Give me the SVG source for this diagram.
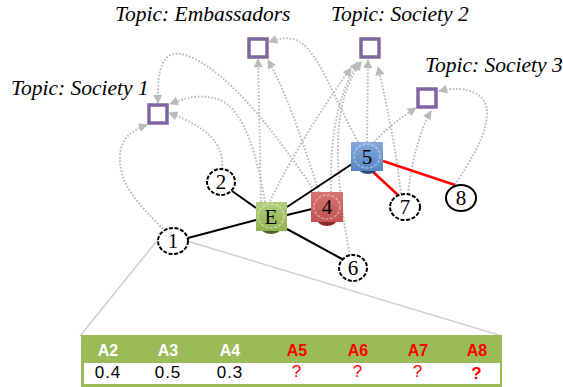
<svg xmlns="http://www.w3.org/2000/svg" width="563" height="387" viewBox="0 0 563 387">
  <defs>
    <style>
      .topic-label { font-family: "Liberation Serif", "Times New Roman", serif; font-style: italic; font-size: 21.5px; fill: #000; }
      .topic { fill: #fff; stroke: #8064a2; stroke-width: 3.5; }
      .dep { fill: none; stroke: #bababa; stroke-width: 2; stroke-dasharray: 1.6 1.8; marker-end: url(#arrow); }
      .edge { stroke: #000; stroke-width: 2; fill: none; }
      .edge-red { stroke: #ff0000; stroke-width: 2.5; fill: none; }
      .circ { fill: #fff; stroke: #000; stroke-width: 2; stroke-dasharray: 4 1.6; }
      .circ-solid { fill: #fff; stroke: #000; stroke-width: 2; }
      .nlabel { font-family: "Liberation Serif", "Times New Roman", serif; font-size: 21px; fill: #000; text-anchor: middle; }
      .ring { fill: none; stroke: rgba(255,255,255,0.4); stroke-width: 1.5; stroke-dasharray: 3 1.5; }
      .guide { stroke: #cfcfcf; stroke-width: 1.5; fill: none; }
      .th { font-family: "Liberation Sans", Arial, sans-serif; font-weight: bold; font-size: 16px; text-anchor: middle; }
      .td { font-family: "Liberation Sans", Arial, sans-serif; font-size: 17px; text-anchor: middle; letter-spacing: 1px; }
    </style>
    <marker id="arrow" viewBox="0 0 10 10" refX="9" refY="5" markerWidth="10" markerHeight="9" markerUnits="userSpaceOnUse" orient="auto">
      <path d="M0,0 L10,5 L0,10 z" fill="#bababa"/>
    </marker>
    <linearGradient id="gGreen" x1="0" y1="0" x2="0" y2="1">
      <stop offset="0" stop-color="#b3cd7c"/>
      <stop offset="1" stop-color="#93b253"/>
    </linearGradient>
    <linearGradient id="gRed" x1="0" y1="0" x2="0" y2="1">
      <stop offset="0" stop-color="#d77472"/>
      <stop offset="1" stop-color="#c25452"/>
    </linearGradient>
    <linearGradient id="gBlue" x1="0" y1="0" x2="0" y2="1">
      <stop offset="0" stop-color="#86a9d9"/>
      <stop offset="1" stop-color="#5686c4"/>
    </linearGradient>
  </defs>

  <rect width="563" height="387" fill="#fff"/>

  <!-- guide lines from node 1 to the attribute table -->
  <g id="guides">
    <path class="guide" d="M160,237 L80,336"/>
    <path class="guide" d="M187,241 L502,336"/>
  </g>

  <!-- dotted topic links -->
  <g id="topic-links">
    <path class="dep" d="M163,229 C 140,205 118,185 120,155 C 121,138 132,130 147,125"/>
    <path class="dep" d="M316,193 C 280,140 230,70 185,55 C 162,48 157,70 158,103"/>
    <path class="dep" d="M265,202 C 258,160 245,110 220,100 C 200,93 185,98 170,104"/>
    <path class="dep" d="M222,169 C 224,145 210,128 169,113"/>
    <path class="dep" d="M261,202 L258,59"/>
    <path class="dep" d="M319,192 C 305,150 290,100 268,60"/>
    <path class="dep" d="M358,142 C 335,100 320,55 300,42 C 290,36 280,38 269,42"/>
    <path class="dep" d="M270,201 C 290,160 320,110 351,68"/>
    <path class="dep" d="M331,192 C 330,150 334,100 358,62"/>
    <path class="dep" d="M350,255 C 345,230 338,190 338,150 C 338,110 345,85 361,62"/>
    <path class="dep" d="M367,142 L368,60"/>
    <path class="dep" d="M401,194 C 396,150 388,110 378,67"/>
    <path class="dep" d="M374,142 C 385,130 400,118 416,108"/>
    <path class="dep" d="M408,194 C 412,160 420,130 431,111"/>
    <path class="dep" d="M455,185 C 470,160 485,140 487,115 C 489,95 468,84 439,91"/>
  </g>

  <!-- social links -->
  <g id="edges">
    <path class="edge" d="M188,238 L256,220"/>
    <path class="edge" d="M232,191 L256,208"/>
    <path class="edge" d="M287,207 L352,164"/>
    <path class="edge" d="M287,215 L312,209"/>
    <path class="edge" d="M287,229 L342,259"/>
    <path class="edge-red" d="M372,171 L398,195"/>
    <path class="edge-red" d="M383,161 L455,185"/>
  </g>

  <!-- topics -->
  <g id="topic-society1">
    <rect class="topic" x="149" y="105" width="18" height="18"/>
    <text class="topic-label" x="11" y="95">Topic: Society 1</text>
  </g>
  <g id="topic-embassadors">
    <rect class="topic" x="249" y="39" width="18" height="18"/>
    <text class="topic-label" x="115" y="21">Topic: Embassadors</text>
  </g>
  <g id="topic-society2">
    <rect class="topic" x="361" y="39" width="18" height="18"/>
    <text class="topic-label" x="331" y="21">Topic: Society 2</text>
  </g>
  <g id="topic-society3">
    <rect class="topic" x="425" y="89" width="18" height="18" transform="translate(-7,0)"/>
    <text class="topic-label" x="425" y="72">Topic: Society 3</text>
  </g>

  <!-- actors -->
  <g id="node-E">
    <ellipse cx="271" cy="226" rx="11" ry="8" fill="#4f6228"/>
    <rect x="256" y="202" width="31" height="29" fill="url(#gGreen)"/>
    <ellipse class="ring" cx="271" cy="216" rx="13" ry="12"/>
    <text class="nlabel" x="271" y="224">E</text>
  </g>
  <g id="node-4">
    <ellipse cx="327" cy="219" rx="10" ry="7" fill="#8b2c2a"/>
    <rect x="311" y="192" width="32" height="30" fill="url(#gRed)"/>
    <ellipse class="ring" cx="327" cy="207" rx="13" ry="12"/>
    <text class="nlabel" x="327" y="214">4</text>
  </g>
  <g id="node-5">
    <ellipse cx="368" cy="167" rx="10" ry="7" fill="#2a4d7f"/>
    <rect x="351" y="142" width="32" height="29" fill="url(#gBlue)"/>
    <ellipse class="ring" cx="367" cy="156" rx="13" ry="12"/>
    <text class="nlabel" x="367" y="164">5</text>
  </g>
  <g id="node-1">
    <ellipse class="circ" cx="173" cy="241" rx="15" ry="13"/>
    <text class="nlabel" x="173" y="248">1</text>
  </g>
  <g id="node-2">
    <ellipse class="circ" cx="221" cy="182" rx="14" ry="13"/>
    <text class="nlabel" x="221" y="189">2</text>
  </g>
  <g id="node-6">
    <ellipse class="circ" cx="353" cy="268" rx="14" ry="13"/>
    <text class="nlabel" x="353" y="275">6</text>
  </g>
  <g id="node-7">
    <ellipse class="circ" cx="405" cy="207" rx="15" ry="13"/>
    <text class="nlabel" x="405" y="214">7</text>
  </g>
  <g id="node-8">
    <ellipse class="circ-solid" cx="461" cy="198" rx="15" ry="13"/>
    <text class="nlabel" x="461" y="205">8</text>
  </g>

  <!-- attribute table of node 1 -->
  <g id="table">
    <rect x="81" y="335" width="421" height="52" fill="#9bbb59"/>
    <rect x="84" y="363" width="416" height="21" fill="#fff"/>
    <text class="th" x="108" y="356" fill="#fff">A2</text>
    <text class="th" x="168" y="356" fill="#fff">A3</text>
    <text class="th" x="230" y="356" fill="#fff">A4</text>
    <text class="th" x="297" y="356" fill="#ff0000">A5</text>
    <text class="th" x="358" y="356" fill="#ff0000">A6</text>
    <text class="th" x="418" y="356" fill="#ff0000">A7</text>
    <text class="th" x="477" y="356" fill="#ff0000">A8</text>
    <text class="td" x="108" y="378" fill="#000">0.4</text>
    <text class="td" x="168" y="378" fill="#000">0.5</text>
    <text class="td" x="230" y="378" fill="#000">0.3</text>
    <text class="td" x="297" y="377" fill="#ff0000" font-size="16">?</text>
    <text class="td" x="358" y="377" fill="#ff0000" font-size="16">?</text>
    <text class="td" x="418" y="377" fill="#ff0000" font-size="16">?</text>
    <text class="td" x="477" y="379" fill="#ff0000" font-size="16" font-weight="bold">?</text>
  </g>
</svg>
